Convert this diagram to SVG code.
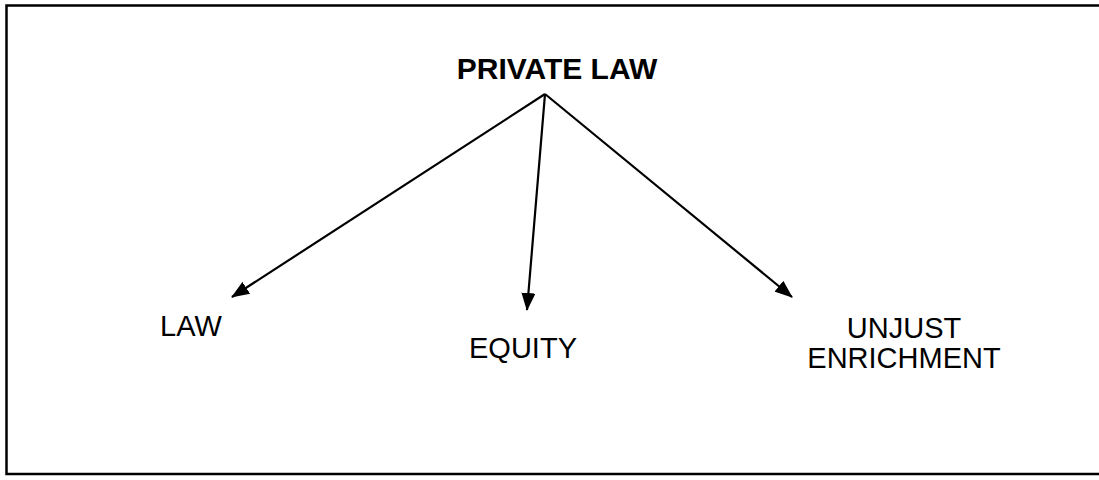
<svg xmlns="http://www.w3.org/2000/svg" width="1099" height="480" viewBox="0 0 1099 480">
<style>
.t{font-family:"Liberation Sans",Arial,sans-serif;font-size:29px;fill:#000;text-anchor:middle}
.b{font-weight:bold;font-size:30px}
.c{stroke:#000;stroke-width:2.2;fill:none}
</style>
<defs>
<marker id="ah" markerWidth="18" markerHeight="14" refX="17" refY="7" orient="auto" markerUnits="userSpaceOnUse">
<path d="M0,0 L18,7 L0,14 Z" fill="#000"/>
</marker>
</defs>
<rect x="0" y="0" width="1099" height="480" fill="#fff"/>
<path d="M1100,5.5 H6.5 V474 H1100" fill="none" stroke="#000" stroke-width="2.5"/>
<g id="connectors">
<line class="c" x1="545" y1="94" x2="232" y2="297" marker-end="url(#ah)"/>
<line class="c" x1="545" y1="94" x2="527" y2="310" marker-end="url(#ah)"/>
<line class="c" x1="545" y1="94" x2="792" y2="297" marker-end="url(#ah)"/>
</g>
<g id="private-law"><text class="t b" x="557" y="79">PRIVATE LAW</text></g>
<g id="law"><text class="t" x="191" y="336">LAW</text></g>
<g id="equity"><text class="t" x="523" y="358">EQUITY</text></g>
<g id="unjust-enrichment"><text class="t" x="904" y="338">UNJUST</text><text class="t" x="904" y="368">ENRICHMENT</text></g>
</svg>
